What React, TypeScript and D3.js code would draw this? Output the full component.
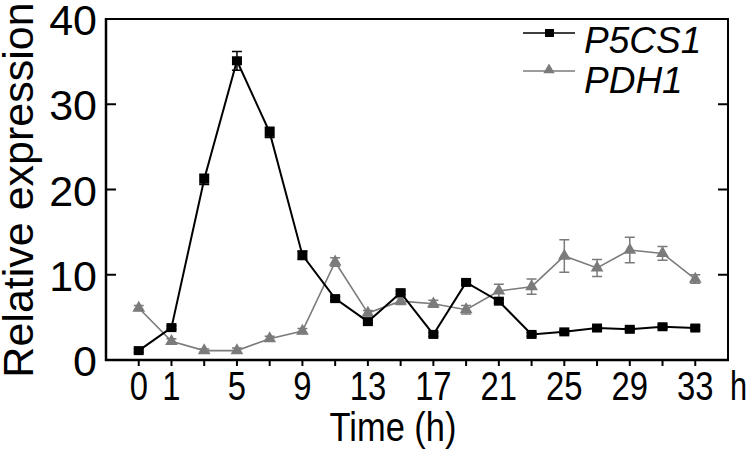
import React, { useEffect, useRef } from "react";
import * as d3 from "d3";

const times = ["0", "1", "3", "5", "7", "9", "11", "13", "15", "17", "19", "21", "23", "25", "27", "29", "31", "33"];
const shownTickLabels = ["0", "1", "5", "9", "13", "17", "21", "25", "29", "33"];
const yTicks = [0, 10, 20, 30, 40];

const p5cs1 = [1.1, 3.8, 21.2, 35.1, 26.7, 12.3, 7.2, 4.5, 7.9, 3.0, 9.1, 6.9, 3.0, 3.3, 3.75, 3.6, 3.9, 3.75];
const p5cs1Err = [0.2, 0.2, 0.6, 1.1, 0.6, 0.5, 0.2, 0.2, 0.2, 0.2, 0.2, 0.2, 0.2, 0.2, 0.2, 0.2, 0.2, 0.2];
const pdh1 = [6.1, 2.2, 1.1, 1.1, 2.5, 3.4, 11.5, 5.5, 6.9, 6.6, 5.9, 8.1, 8.6, 12.2, 10.8, 12.9, 12.5, 9.5];
const pdh1Err = [0.3, 0.3, 0.2, 0.3, 0.3, 0.3, 0.5, 0.3, 0.4, 0.4, 0.5, 0.8, 0.9, 1.9, 1.0, 1.5, 0.8, 0.5];

const seriesNames = ["P5CS1", "PDH1"];

export default function App() {
  const ref = useRef<SVGSVGElement>(null);
  useEffect(() => {
    const svg = d3.select(ref.current);
    svg.selectAll("*").remove();
    const W = 747, H = 451;
    const left = 106, right = 728, top = 19, bottom = 360;
    const x = d3.scalePoint<string>().domain(times).range([left, right]).padding(1);
    const y = d3.scaleLinear().domain([0, 40]).range([bottom, top]);
    const gray = "#7b7b7b";
    const font = "Liberation Sans, Arial, sans-serif";

    svg.append("rect").attr("width", W).attr("height", H).attr("fill", "#fff");

    // frame
    svg.append("path")
      .attr("d", `M${left},${top}H${right}V${bottom}`)
      .attr("fill", "none").attr("stroke", "#000").attr("stroke-width", 2);
    svg.append("line").attr("x1", left).attr("x2", left).attr("y1", top - 1).attr("y2", bottom + 1)
      .attr("stroke", "#000").attr("stroke-width", 2.5);
    svg.append("line").attr("x1", left - 1).attr("x2", right + 1).attr("y1", bottom).attr("y2", bottom)
      .attr("stroke", "#000").attr("stroke-width", 2.5);

    // y ticks
    yTicks.forEach((t) => {
      if (t > 0 && t < 40) {
        svg.append("line").attr("x1", left).attr("x2", left + 10).attr("y1", y(t)).attr("y2", y(t))
          .attr("stroke", "#000").attr("stroke-width", 2);
        svg.append("line").attr("x1", right).attr("x2", right - 10).attr("y1", y(t)).attr("y2", y(t))
          .attr("stroke", "#000").attr("stroke-width", 2);
      }
      svg.append("text").attr("x", 97).attr("y", y(t) + 16).attr("text-anchor", "end")
        .attr("font-family", font).attr("font-size", 43).text(String(t));
    });

    // x ticks
    times.forEach((t) => {
      const px = x(t)!;
      svg.append("line").attr("x1", px).attr("x2", px).attr("y1", bottom).attr("y2", bottom + 6)
        .attr("stroke", "#000").attr("stroke-width", 2);
      if (shownTickLabels.includes(t)) {
        svg.append("text").attr("transform", `translate(${px},400) scale(0.8,1)`)
          .attr("text-anchor", "middle").attr("font-family", font).attr("font-size", 41).text(t);
      }
    });
    svg.append("text").attr("transform", `translate(730,400) scale(0.75,1)`)
      .attr("text-anchor", "start").attr("font-family", font).attr("font-size", 41).text("h");

    svg.append("text").attr("transform", `translate(393,441) scale(0.84,1)`)
      .attr("text-anchor", "middle").attr("font-family", font).attr("font-size", 41).text("Time (h)");

    svg.append("text").attr("transform", `translate(33,190) rotate(-90)`)
      .attr("text-anchor", "middle").attr("font-family", font).attr("font-size", 43).text("Relative expression");

    const line = d3.line<number>().x((_, i) => x(times[i])!).y((d) => y(d));
    const tri = d3.symbol().type(d3.symbolTriangle).size(70);

    const drawSeries = (vals: number[], errs: number[], color: string, width: number, marker: "sq" | "tri") => {
      const g = svg.append("g");
      vals.forEach((v, i) => {
        const px = x(times[i])!;
        const e = errs[i];
        g.append("path")
          .attr("d", `M${px},${y(v - e)}V${y(v + e)}M${px - 5},${y(v + e)}H${px + 5}M${px - 5},${y(v - e)}H${px + 5}`)
          .attr("stroke", color).attr("stroke-width", 1.5).attr("fill", "none");
      });
      g.append("path").attr("d", line(vals)!).attr("fill", "none").attr("stroke", color).attr("stroke-width", width);
      vals.forEach((v, i) => {
        const px = x(times[i])!;
        if (marker === "sq") {
          g.append("rect").attr("x", px - 5).attr("y", y(v) - 4.5).attr("width", 10).attr("height", 9).attr("fill", color);
        } else {
          g.append("path").attr("d", tri()!).attr("transform", `translate(${px},${y(v)})`).attr("fill", color);
        }
      });
    };
    drawSeries(pdh1, pdh1Err, gray, 1.6, "tri");
    drawSeries(p5cs1, p5cs1Err, "#000", 2, "sq");

    // legend
    const legendItems = [
      { name: seriesNames[0], color: "#000", marker: "sq", ly: 33, ty: 53 },
      { name: seriesNames[1], color: gray, marker: "tri", ly: 71, ty: 93 },
    ];
    legendItems.forEach((it) => {
      svg.append("line").attr("x1", 523).attr("x2", 575).attr("y1", it.ly).attr("y2", it.ly)
        .attr("stroke", it.color).attr("stroke-width", it.marker === "sq" ? 1.5 : 1.3);
      if (it.marker === "sq") {
        svg.append("rect").attr("x", 545).attr("y", it.ly - 4).attr("width", 9).attr("height", 8).attr("fill", it.color);
      } else {
        svg.append("path").attr("d", d3.symbol().type(d3.symbolTriangle).size(55)()!)
          .attr("transform", `translate(549,${it.ly - 1})`).attr("fill", it.color);
      }
      svg.append("text").attr("x", 584).attr("y", it.ty).attr("font-family", font).attr("font-style", "italic")
        .attr("font-size", 37).text(it.name);
    });
  }, []);
  return (
    <svg ref={ref} width={747} height={451} style={{ position: "absolute", left: 0, top: 0, display: "block" }} />
  );
}
